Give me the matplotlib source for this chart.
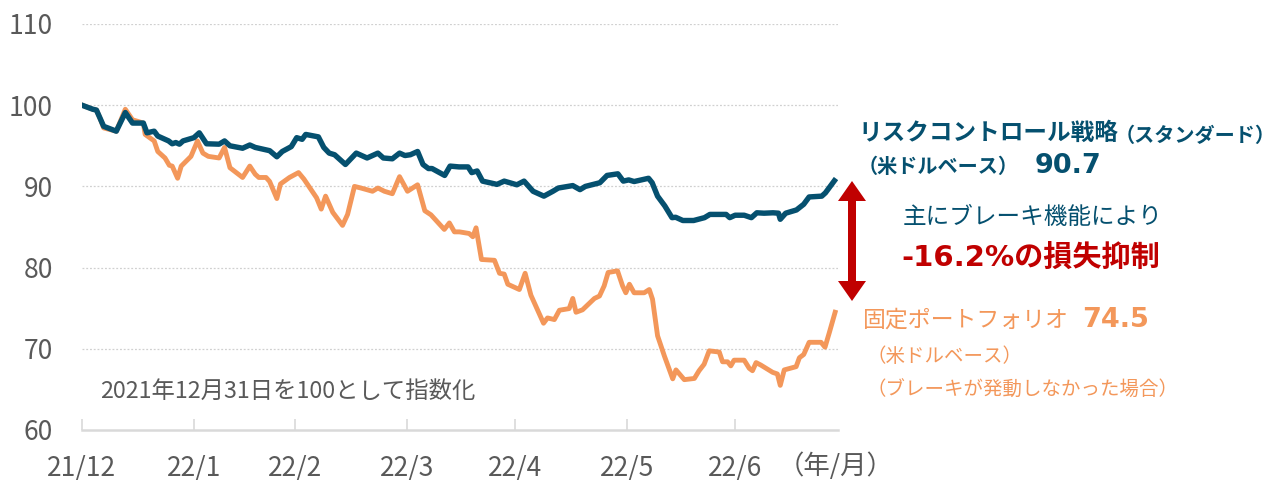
import matplotlib
matplotlib.use("Agg")
import matplotlib.pyplot as plt
from matplotlib.patches import Polygon

plt.rcParams['font.family'] = ['Noto Sans CJK JP', 'DejaVu Sans']

# days since 2021-12-31
risk_days = [0, 3, 4, 5, 6, 9.5, 12, 14, 17, 18, 20, 21, 24, 25, 26, 27, 28, 31, 32.5, 34.5, 38,
             39.5, 41, 44.5, 46.5, 48, 52, 54, 55.5, 58, 59.5, 61, 62, 65.5, 67, 68.5, 70, 73,
             76, 79, 82, 83.5, 86, 88, 89.5, 91, 93, 94.5, 96, 97, 100.5, 102, 104.5, 107, 108,
             109.5, 111, 115, 117, 120.5, 122.5, 125, 128, 130.5, 132, 136, 138, 139.5, 143.5,
             145.5, 148.5, 150, 151.5, 153, 157, 158, 159.5, 161.5, 163.5, 164.5, 166.5, 169.5,
             172.5, 174, 178.5, 179.5, 181, 183.5, 185.5, 187, 189, 191.5, 193, 193.5, 195, 198,
             200, 201.5, 205, 206, 208.5]
risk_vals = [100, 99.5, 99.4, 98.4, 97.4, 96.8, 99.1, 97.8, 97.8, 96.6, 96.8, 96.2, 95.6, 95.25,
             95.4, 95.2, 95.6, 96.0, 96.6, 95.25, 95.2, 95.6, 95.0, 94.7, 95.1, 94.8, 94.4, 93.65,
             94.3, 94.9, 96.0, 95.8, 96.4, 96.1, 94.8, 94.1, 93.9, 92.7, 94.1, 93.5, 94.1, 93.5,
             93.4, 94.1, 93.8, 93.9, 94.3, 92.7, 92.2, 92.2, 91.35, 92.5, 92.4, 92.4, 91.7, 91.9,
             90.65, 90.25, 90.65, 90.2, 90.65, 89.4, 88.8, 89.4, 89.8, 90.1, 89.6, 90.0, 90.45,
             91.35, 91.55, 90.65, 90.8, 90.6, 91.0, 90.45, 88.8, 87.6, 86.15, 86.2, 85.8, 85.8,
             86.15, 86.55, 86.55, 86.15, 86.45, 86.45, 86.15, 86.75, 86.7, 86.75, 86.7, 85.95,
             86.7, 87.1, 87.8, 88.7, 88.8, 89.2, 90.7]

fixed_days = [0, 3, 4, 5, 6, 9.5, 12, 14, 17, 17.5, 20, 21, 23, 24.2, 25, 26.5, 27.5, 30.2, 32,
              33.5, 35, 38, 39.5, 41, 44.5, 46.5, 48, 49, 51, 52, 54, 55, 57.5, 60, 61.5, 65,
              66.3, 67.5, 69.5, 72.2, 73.6, 75.5, 77.3, 80.5, 82, 83.8, 86, 88, 90.2, 93, 95,
              96.7, 100.4, 101.8, 103.2, 104.6, 107.3, 108.3, 109.2, 110.7, 114.3, 115.7, 117,
              118, 121.2, 122.8, 124.4, 127.9, 129, 130.9, 132.3, 135, 136, 136.9, 138.7, 142,
              143.4, 144.7, 145.8, 148.4, 149.8, 150.7, 151.7, 153, 155.8, 157.2, 158.1, 159.5,
              161.4, 163.7, 164.6, 166.9, 169.7, 171, 172.4, 173.8, 176.6, 177.5, 178.9, 179.8,
              180.7, 183.5, 184.9, 185.8, 186.8, 188.1, 191.4, 192.7, 193.5, 194.6, 197.9, 198.8,
              200, 201.5, 204.8, 205.9, 207.1, 208.7]
fixed_vals = [100, 99.5, 99.4, 98.4, 97.2, 96.8, 99.5, 98.2, 97.8, 96.4, 95.6, 94.3, 93.5, 92.6,
              92.5, 91.0, 92.5, 93.7, 95.6, 94.1, 93.7, 93.5, 94.8, 92.3, 91.1, 92.5, 91.5, 91.1,
              91.1, 90.6, 88.5, 90.3, 91.1, 91.7, 90.9, 88.6, 87.2, 88.8, 86.8, 85.2, 86.55, 90.0,
              89.8, 89.4, 89.8, 89.4, 89.1, 91.2, 89.4, 90.2, 87.0, 86.5, 84.7, 85.5, 84.4, 84.4,
              84.2, 83.8, 84.9, 81.0, 80.9, 79.3, 79.2, 77.95, 77.3, 79.3, 76.6, 73.15, 73.8, 73.6,
              74.75, 74.95, 76.2, 74.5, 74.8, 76.2, 76.5, 77.75, 79.4, 79.6, 77.75, 76.9, 77.95,
              76.9, 76.9, 77.3, 76.1, 71.6, 69.1, 66.3, 67.4, 66.2, 66.35, 67.3, 68.1, 69.75, 69.6,
              68.4, 68.4, 67.9, 68.6, 68.6, 67.6, 67.3, 68.3, 68.0, 67.1, 66.9, 65.5, 67.4, 67.8,
              68.9, 69.3, 70.8, 70.8, 70.2, 72.0, 74.5]

tick_days = [0, 31, 59, 90, 120, 151, 181]
tick_labels = ['21/12', '22/1', '22/2', '22/3', '22/4', '22/5', '22/6']
y_ticks = [60, 70, 80, 90, 100, 110]

BLUE = '#05506f'
ORANGE = '#f3975a'
RED = '#c00000'
GRAY = '#595959'
NUMFONT = ['DejaVu Sans', 'Noto Sans CJK JP']

W, H = 1281, 480
fig = plt.figure(figsize=(W / 100, H / 100), dpi=100)
ax = fig.add_axes([82 / W, (480 - 430) / H, (838 - 82) / W, (430 - 24) / H])

ax.plot(fixed_days, fixed_vals, color=ORANGE, lw=3.5, solid_joinstyle='round', zorder=3)
ax.plot(risk_days, risk_vals, color=BLUE, lw=3.9, solid_joinstyle='round', zorder=4)

ax.set_xlim(0, 209.5)
ax.set_ylim(60, 110)
ax.set_yticks(y_ticks)
ax.set_yticklabels([str(v) for v in y_ticks])
ax.set_xticks(tick_days)
ax.set_xticklabels(tick_labels)

for v in y_ticks[1:]:
    ax.axhline(v, color='#d0d0d0', lw=0.9, ls=(0, (1.5, 1.5)), zorder=1)

for s in ['top', 'right', 'left']:
    ax.spines[s].set_visible(False)
ax.spines['bottom'].set_color('#d9d9d9')
ax.spines['bottom'].set_linewidth(1.8)
ax.tick_params(axis='y', length=0, pad=21, labelsize=19, labelcolor=GRAY)
ax.tick_params(axis='x', direction='in', length=8, width=1.2, color='#d9d9d9',
               pad=18, labelsize=19, labelcolor=GRAY)

def fx(px):
    return px / W

def fy(py):
    return 1 - py / H

fig.text(fx(778), fy(466), '（年/月）', fontsize=19, color=GRAY, va='center', ha='left')
fig.text(fx(100), fy(391), '2021年12月31日を100として指数化', fontsize=16.8, color=GRAY,
         va='center', ha='left')

fig.text(fx(858), fy(133), 'リスクコントロール戦略', fontsize=17, fontweight='bold',
         color=BLUE, va='center', ha='left')
fig.text(fx(1115), fy(135), '（スタンダード）', fontsize=14.5, fontweight='bold',
         color=BLUE, va='center', ha='left')
fig.text(fx(858), fy(166), '（米ドルベース）', fontsize=14.5, fontweight='bold',
         color=BLUE, va='center', ha='left')
fig.text(fx(1035), fy(166), '90.7', fontsize=19.5, fontweight='bold', family=NUMFONT,
         color=BLUE, va='center', ha='left')

fig.text(fx(903), fy(218), '主にブレーキ機能により', fontsize=17,
         color=BLUE, va='center', ha='left')
fig.text(fx(901), fy(258), '-16.2%の損失抑制', fontsize=21, fontweight='bold', family=NUMFONT,
         color=RED, va='center', ha='left')

fig.text(fx(863), fy(320), '固定ポートフォリオ', fontsize=16.5,
         color=ORANGE, va='center', ha='left')
fig.text(fx(1082), fy(320), '74.5', fontsize=19.5, fontweight='bold', family=NUMFONT,
         color=ORANGE, va='center', ha='left')
fig.text(fx(867), fy(357), '（米ドルベース）', fontsize=14,
         color=ORANGE, va='center', ha='left')
fig.text(fx(867), fy(390), '（ブレーキが発動しなかった場合）', fontsize=14,
         color=ORANGE, va='center', ha='left')

# double-headed arrow
cx, top, bot = 852, 181, 301
hw, hl, sw = 14, 20, 4
pts = [(cx, top), (cx + hw, top + hl), (cx + sw, top + hl), (cx + sw, bot - hl),
       (cx + hw, bot - hl), (cx, bot), (cx - hw, bot - hl), (cx - sw, bot - hl),
       (cx - sw, top + hl), (cx - hw, top + hl)]
fig.patches.append(Polygon([(fx(x), fy(y)) for x, y in pts], closed=True,
                           facecolor=RED, edgecolor='none', transform=fig.transFigure))

fig.savefig('out.png', dpi=100)
